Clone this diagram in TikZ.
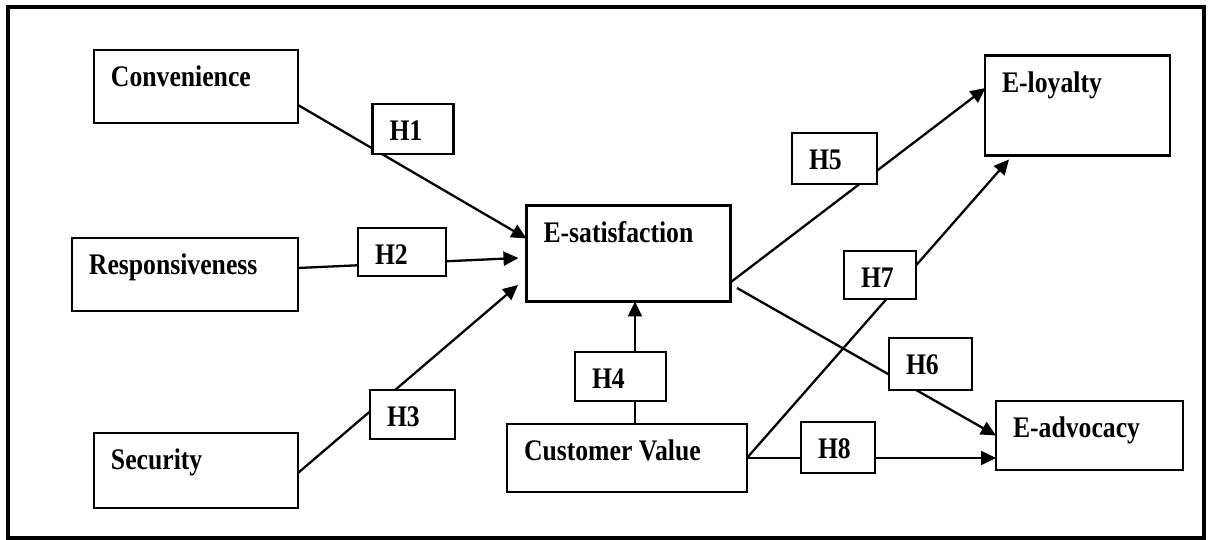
\documentclass[tikz,border=0pt]{standalone}
\usepackage{fontspec}
\newfontfamily\hypfont[FakeStretch=0.86]{Liberation Serif}
\usepackage{tikz}
\usetikzlibrary{arrows.meta,calc}

\tikzset{
  varbox/.style={draw, line width=1.5pt, fill=white, anchor=north west,
    outer sep=0pt, inner xsep=0.34cm, inner ysep=0pt, text height=0.74cm,
    align=flush left, font=\hypfont\bfseries\fontsize{17}{19}\selectfont},
  hyp/.style={line width=1.3pt, -{Triangle[length=0.3cm,width=0.28cm]}},
}

\begin{document}
\begin{tikzpicture}[x=0.02cm, y=-0.02cm]
  \useasboundingbox (0,0) rectangle (1217,540);
  \draw[line width=2.4pt] (8.3,7.2) rectangle (1204,538);

  \node[varbox, text width=3.40cm, text depth=0.72cm] (conv) at (94,50) {Convenience};
  \node[varbox, text width=3.84cm, text depth=0.72cm] (resp) at (72,238) {Responsiveness};
  \node[varbox, text width=3.40cm, text depth=0.76cm] (secu) at (94,433) {Security};
  \node[varbox, text width=3.40cm, text depth=1.18cm] (esat) at (526.5,205.5) {E-satisfaction};
  \node[varbox, text width=4.12cm, text depth=0.62cm] (cval) at (507,424) {Customer Value};
  \node[varbox, text width=3.02cm, text depth=1.26cm] (eloy) at (985,55.5) {E-loyalty};
  \node[varbox, text width=3.06cm, text depth=0.64cm] (eadv) at (996,401) {E-advocacy};

  \coordinate (h4s) at ($(cval.north)+(8,0)$);
  \draw[hyp] ($(conv.east)+(0,18.5)$) -- ($(esat.west)+(0,-15)$);
  \draw[hyp] ($(resp.east)+(0,-6.5)$) -- ($(esat.west)+(-8,4.5)$);
  \draw[hyp] ($(secu.east)+(0,2.5)$) -- ($(esat.west)+(-8.5,31.5)$);
  \draw[hyp] (h4s) -- (h4s |- esat.south);
  \draw[hyp] ($(esat.east)+(0.5,28.5)$) -- ($(eloy.west)+(0.5,-17.5)$);
  \draw[hyp] ($(esat.east)+(6.5,34.5)$) -- (eadv.west);
  \draw[hyp] (cval.east) -- ($(eloy.south west)+(24,4)$);
  \draw[hyp] (cval.east) -- (cval.east -| eadv.west);

  \node[varbox, text width=0.94cm, text depth=0.26cm] (h1) at (372.5,104) {H1};
  \node[varbox, text width=1.08cm, text depth=0.22cm] (h2) at (358,228) {H2};
  \node[varbox, text width=1.02cm, text depth=0.24cm] (h3) at (370,390) {H3};
  \node[varbox, text width=1.14cm, text depth=0.24cm] (h4) at (575,352) {H4};
  \node[varbox, text width=1.02cm, text depth=0.28cm] (h5) at (792,133) {H5};
  \node[varbox, text width=0.98cm, text depth=0.30cm] (h6) at (889,338) {H6};
  \node[varbox, text width=0.76cm, text depth=0.22cm] (h7) at (844,251) {H7};
  \node[varbox, text width=0.80cm, text depth=0.28cm] (h8) at (801,422) {H8};
\end{tikzpicture}
\end{document}
